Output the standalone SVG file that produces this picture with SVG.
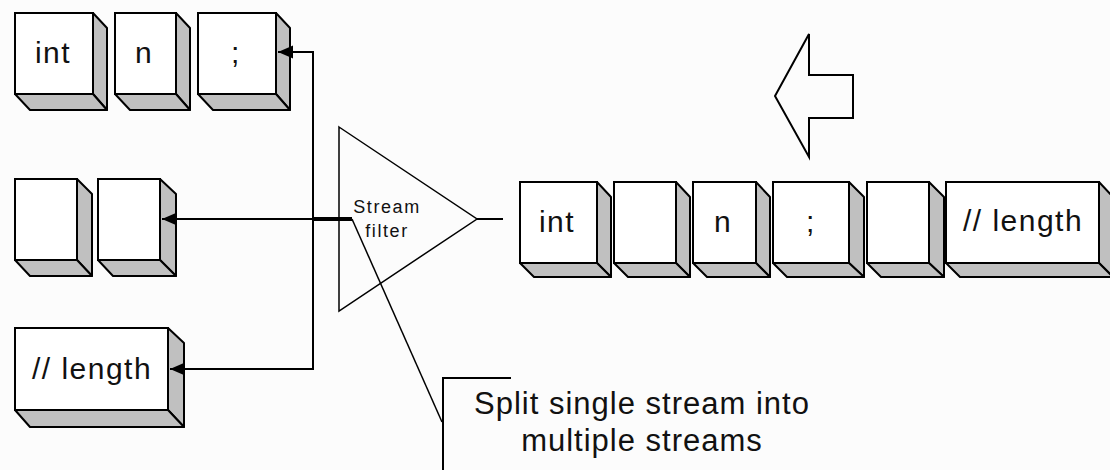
<svg xmlns="http://www.w3.org/2000/svg" width="1110" height="470" viewBox="0 0 1110 470">
<style>
.face{fill:#ffffff;stroke:#000;stroke-width:2}
.side{fill:#c0c0c0;stroke:#000;stroke-width:2;stroke-linejoin:round}
.lbl{font-family:"Liberation Sans",Arial,sans-serif;font-size:30px;letter-spacing:1.5px;text-anchor:middle;fill:#111}
.sm{font-family:"Liberation Sans",Arial,sans-serif;font-size:18px;letter-spacing:1.6px;text-anchor:middle;fill:#111}
.note{font-family:"Liberation Sans",Arial,sans-serif;font-size:31px;letter-spacing:1px;text-anchor:middle;fill:#111}
.ln{fill:none;stroke:#000;stroke-width:2}
.thin{fill:none;stroke:#000;stroke-width:1.5}
</style>
<defs>
<marker id="ah" markerUnits="userSpaceOnUse" markerWidth="16" markerHeight="14" refX="15" refY="7" orient="auto">
<path d="M0,0.5 L15,7 L0,13.5 z" fill="#000"/>
</marker>
</defs>
<rect width="1110" height="470" fill="#fcfcfc"/>

<g id="top-int"><polygon class="side" points="93,13 107,28 107,110 93,94"/><polygon class="side" points="15,94 93,94 107,110 30,110"/><rect class="face" x="15" y="13" width="78" height="81"/><text class="lbl" x="53" y="63">int</text></g>
<g id="top-n"><polygon class="side" points="176,13 190,28 190,110 176,94"/><polygon class="side" points="115,94 176,94 190,110 130,110"/><rect class="face" x="115" y="13" width="61" height="81"/><text class="lbl" x="144" y="63">n</text></g>
<g id="top-semi"><polygon class="side" points="276,13 290,28 290,110 276,94"/><polygon class="side" points="198,94 276,94 290,110 213,110"/><rect class="face" x="198" y="13" width="78" height="81"/><text class="lbl" x="236" y="63">;</text></g>

<g id="mid-1"><polygon class="side" points="77,179 92,194 92,276 77,260"/><polygon class="side" points="15,260 77,260 92,276 30,276"/><rect class="face" x="15" y="179" width="62" height="81"/></g>
<g id="mid-2"><polygon class="side" points="160,179 176,194 176,276 160,260"/><polygon class="side" points="98,260 160,260 176,276 113,276"/><rect class="face" x="98" y="179" width="62" height="81"/></g>

<g id="bot-length"><polygon class="side" points="168,328 184,343 184,427 168,410"/><polygon class="side" points="15,410 168,410 184,427 30,427"/><rect class="face" x="15" y="328" width="153" height="82"/><text class="lbl" x="92" y="379">// length</text></g>

<g id="in-int"><polygon class="side" points="597,182 611,197 611,277 597,263"/><polygon class="side" points="520,263 597,263 611,277 534,277"/><rect class="face" x="520" y="182" width="77" height="81"/><text class="lbl" x="557" y="232">int</text></g>
<g id="in-blank1"><polygon class="side" points="676,182 690,197 690,277 676,263"/><polygon class="side" points="614,263 676,263 690,277 628,277"/><rect class="face" x="614" y="182" width="62" height="81"/></g>
<g id="in-n"><polygon class="side" points="756,182 770,197 770,277 756,263"/><polygon class="side" points="693,263 756,263 770,277 707,277"/><rect class="face" x="693" y="182" width="63" height="81"/><text class="lbl" x="723" y="232">n</text></g>
<g id="in-semi"><polygon class="side" points="849,182 864,197 864,277 849,263"/><polygon class="side" points="773,263 849,263 864,277 787,277"/><rect class="face" x="773" y="182" width="76" height="81"/><text class="lbl" x="811" y="232">;</text></g>
<g id="in-blank2"><polygon class="side" points="929,182 944,197 944,277 929,263"/><polygon class="side" points="867,263 929,263 944,277 881,277"/><rect class="face" x="867" y="182" width="62" height="81"/></g>
<g id="in-length"><polygon class="side" points="1099,182 1113,197 1113,277 1099,263"/><polygon class="side" points="946,263 1099,263 1113,277 960,277"/><rect class="face" x="946" y="182" width="153" height="81"/><text class="lbl" x="1023" y="231">// length</text></g>

<g id="filter"><polygon class="thin" points="339,127 477,219 339,311"/><text class="sm" x="387" y="213">Stream</text><text class="sm" x="387" y="237">filter</text></g>

<g id="big-arrow"><polygon points="809,34 809,75 853,75 853,118 809,118 809,157 775,96" fill="none" stroke="#000" stroke-width="2" stroke-linejoin="miter"/></g>

<g id="connectors">
<path class="ln" d="M313,219 V52 H278" marker-end="url(#ah)"/>
<path class="ln" d="M313,219 H162" marker-end="url(#ah)"/>
<path class="ln" d="M313,219 V369 H170" marker-end="url(#ah)"/>
<path d="M313,219 H352" stroke="#000" stroke-width="4" fill="none"/>
<path class="ln" d="M477,219 H503"/>
<path class="thin" d="M352,219 L442,422"/>
<path class="ln" d="M511,378 H443 V470"/>
</g>

<g id="note"><text class="note" x="642" y="414">Split single stream into</text><text class="note" x="642" y="451">multiple streams</text></g>
</svg>
